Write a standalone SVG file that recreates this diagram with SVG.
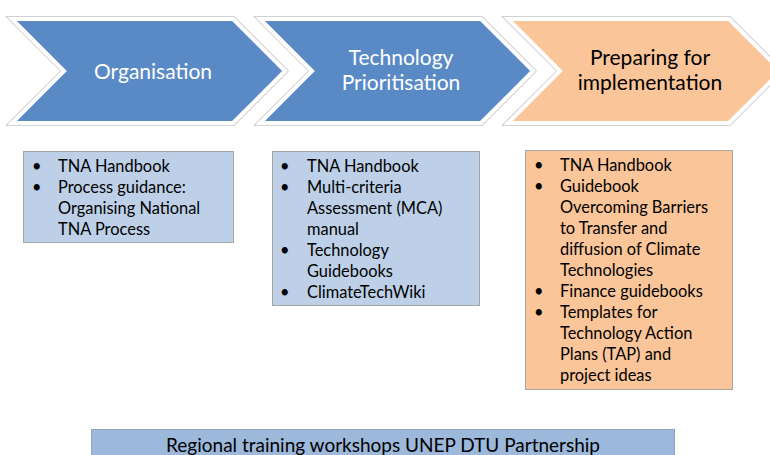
<svg xmlns="http://www.w3.org/2000/svg" width="770" height="455" viewBox="0 0 770 455">
<style>
.shadow{fill:none;stroke:#D2D2D2;stroke-width:6;stroke-linejoin:miter}
.chev{stroke:#FFFFFF;stroke-width:4;stroke-linejoin:miter}
.blue{fill:#5A8AC6}
.orange{fill:#FAC599}
.t{font-family:Lato,"Open Sans",sans-serif}
.head{font-size:21px;text-anchor:middle}
.w{fill:#FFFFFF}
.k{fill:#000000}
.body{font-size:16.4px;fill:#000000}
.box{stroke:#A5A5A5;stroke-width:1}
</style>
<rect width="770" height="455" fill="#FFFFFF"/>
<g id="chevron-organisation">
<polygon class="shadow" points="12,19 233,19 285,71 233,123 12,123 64,71"/>
<polygon class="chev blue" points="12,19 233,19 285,71 233,123 12,123 64,71"/>
<text class="t head w" x="153" y="79">Organisation</text>
</g>
<g id="chevron-prioritisation">
<polygon class="shadow" points="260,19 481,19 533,71 481,123 260,123 312,71"/>
<polygon class="chev blue" points="260,19 481,19 533,71 481,123 260,123 312,71"/>
<text class="t head w" x="401" y="65">Technology</text>
<text class="t head w" x="401" y="89.5">Prioritisation</text>
</g>
<g id="chevron-implementation">
<polygon class="shadow" points="508,19 729,19 781,71 729,123 508,123 560,71"/>
<polygon class="chev orange" points="508,19 729,19 781,71 729,123 508,123 560,71"/>
<text class="t head k" x="650" y="65">Preparing for</text>
<text class="t head k" x="650" y="89.5">implementation</text>
</g>
<g id="box-organisation">
<rect class="box" x="23.5" y="151.5" width="210" height="91" fill="#BDD0E8"/>
<g class="t body">
<text x="32" y="172">•</text><text x="58" y="172">TNA Handbook</text>
<text x="32" y="193">•</text><text x="58" y="193">Process guidance:</text>
<text x="58" y="214">Organising National</text>
<text x="58" y="235">TNA Process</text>
</g>
</g>
<g id="box-prioritisation">
<rect class="box" x="272.5" y="151.5" width="207" height="154" fill="#BDD0E8"/>
<g class="t body">
<text x="280" y="172">•</text><text x="307" y="172">TNA Handbook</text>
<text x="280" y="193">•</text><text x="307" y="193">Multi-criteria</text>
<text x="307" y="214">Assessment (MCA)</text>
<text x="307" y="235">manual</text>
<text x="280" y="256">•</text><text x="307" y="256">Technology</text>
<text x="307" y="277">Guidebooks</text>
<text x="280" y="298">•</text><text x="307" y="298">ClimateTechWiki</text>
</g>
</g>
<g id="box-implementation">
<rect class="box" x="525.5" y="150.5" width="207" height="239" fill="#FAC599" stroke="#C9A07C"/>
<g class="t body">
<text x="534" y="171">•</text><text x="560" y="171">TNA Handbook</text>
<text x="534" y="192">•</text><text x="560" y="192">Guidebook</text>
<text x="560" y="213">Overcoming Barriers</text>
<text x="560" y="234">to Transfer and</text>
<text x="560" y="255">diffusion of Climate</text>
<text x="560" y="276">Technologies</text>
<text x="534" y="297">•</text><text x="560" y="297">Finance guidebooks</text>
<text x="534" y="318">•</text><text x="560" y="318">Templates for</text>
<text x="560" y="339">Technology Action</text>
<text x="560" y="360">Plans (TAP) and</text>
<text x="560" y="381">project ideas</text>
</g>
</g>
<g id="bar-workshops">
<rect x="91.5" y="429.5" width="583" height="30" fill="#9CB8DB" stroke="#8FA4BF" stroke-width="1"/>
<text class="t" x="383" y="452" font-size="19px" text-anchor="middle" fill="#000000">Regional training workshops UNEP DTU Partnership</text>
</g>
<g id="connectors"/>
</svg>
